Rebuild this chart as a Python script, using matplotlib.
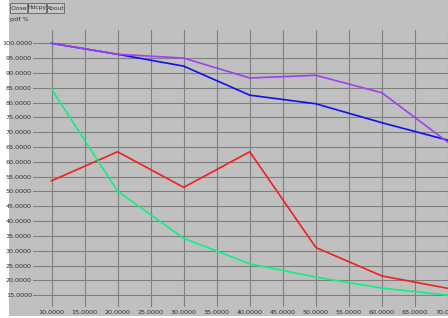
import numpy as np
import matplotlib
matplotlib.use('Agg')
import matplotlib.pyplot as plt
from matplotlib.patches import Rectangle

# data (x in steps of 10)
x = [10, 20, 30, 40, 50, 60, 70]
purple = [100.0, 96.3, 95.0, 88.3, 89.2, 83.3, 66.6]
blue = [100.0, 96.3, 92.3, 82.5, 79.6, 73.2, 67.3]
red = [53.6, 63.4, 51.4, 63.4, 31.1, 21.5, 17.3]
green = [84.6, 50.1, 34.2, 25.6, 21.1, 17.4, 15.0]

xticks = np.arange(10, 75, 5)
yticks = np.arange(15, 105, 5)

W, H = 448, 318
bg = '#c0c0c0'
fig = plt.figure(figsize=(W / 100, H / 100), dpi=100, facecolor='white')
fig.patches.append(Rectangle((9 / W, 2 / H), 1, 1, transform=fig.transFigure,
                             facecolor=bg, edgecolor='none', zorder=-10))

# axes placed in pixel terms of the old X window
ax = fig.add_axes([33 / W, 1 - 307 / H, (448 - 33) / W, (307 - 30) / H])
ax.set_facecolor(bg)
for s in ax.spines.values():
    s.set_visible(False)

ax.plot(x, blue, color='#1010f0', lw=1.2)
ax.plot(x, purple, color='#a040f0', lw=1.2)
ax.plot(x, red, color='#f02020', lw=1.2)
ax.plot(x, green, color='#10f080', lw=1.2)

ax.set_xlim(7.2, 69.42)
ax.set_ylim(11.02, 104.49)
ax.set_xticks(xticks)
ax.set_yticks(yticks)
ax.set_xticklabels(['%.4f' % v for v in xticks])
ax.set_yticklabels(['%.4f' % v for v in yticks])
ax.tick_params(length=0, labelsize=4.6, labelcolor='#303030')
ax.tick_params(axis='y', pad=0.8)
ax.tick_params(axis='x', pad=2.0)
ax.grid(True, color='#808080', lw=0.8)
ax.set_axisbelow(True)

# title-ish label and buttons
fig.text(10 / W, 1 - 20 / H, 'pdf %', fontsize=4.6, color='#303030', va='center')
bx = 10
for name, w in [('Close', 17), ('Hdcpy', 18), ('About', 17)]:
    fig.patches.append(Rectangle((bx / W, 1 - 13 / H), w / W, 10 / H,
                                 transform=fig.transFigure, facecolor='#c8c8c8',
                                 edgecolor='#606060', lw=0.6))
    fig.text((bx + w / 2) / W, 1 - 8 / H, name, fontsize=4.3, color='#303030',
             ha='center', va='center')
    bx += w + 1

fig.savefig('out.png', dpi=100, facecolor=fig.get_facecolor())
